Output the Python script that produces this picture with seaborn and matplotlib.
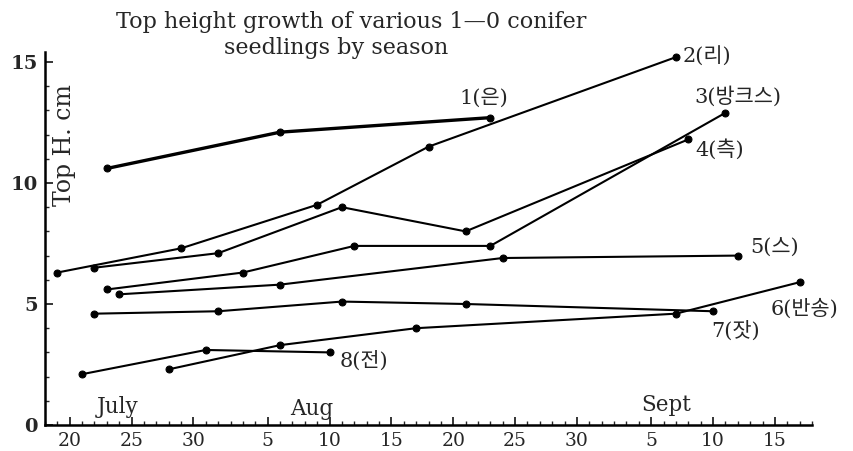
import matplotlib
matplotlib.use("Agg")
import matplotlib.pyplot as plt
import seaborn as sns
from matplotlib.ticker import FixedLocator, MultipleLocator

# days counted from July 1 (so Aug 5 = 36, Sept 5 = 67)
eun_days = [23, 37, 54]
eun_height = [10.6, 12.1, 12.7]

ri_days = [19, 29, 40, 49, 69]
ri_height = [6.3, 7.3, 9.1, 11.5, 15.2]

banks_days = [23, 34, 43, 54, 73]
banks_height = [5.6, 6.3, 7.4, 7.4, 12.9]

cheuk_days = [22, 32, 42, 52, 70]
cheuk_height = [6.5, 7.1, 9.0, 8.0, 11.8]

seu_days = [24, 37, 55, 74]
seu_height = [5.4, 5.8, 6.9, 7.0]

bansong_days = [28, 37, 48, 69, 79]
bansong_height = [2.3, 3.3, 4.0, 4.6, 5.9]

jat_days = [22, 32, 42, 52, 72]
jat_height = [4.6, 4.7, 5.1, 5.0, 4.7]

jeon_days = [21, 31, 41]
jeon_height = [2.1, 3.1, 3.0]

series_names = ["1(은)", "2(리)", "3(방크스)", "4(측)", "5(스)", "6(반송)", "7(잣)", "8(전)"]

tick_days = [20, 25, 30, 36, 41, 46, 51, 56, 61, 67, 72, 77]
tick_labels = ["20", "25", "30", "5", "10", "15", "20", "25", "30", "5", "10", "15"]

month_names = ["July", "Aug", "Sept"]
month_days = [23.9, 39.6, 68.2]
month_y = [0.74, 0.65, 0.84]

series = [
    (eun_days, eun_height),
    (ri_days, ri_height),
    (banks_days, banks_height),
    (cheuk_days, cheuk_height),
    (seu_days, seu_height),
    (bansong_days, bansong_height),
    (jat_days, jat_height),
    (jeon_days, jeon_height),
]
# label offsets from the last point, in points
label_offsets = [(-22, 14), (5, 0), (-22, 12), (5, -7), (9, 5), (-21, -19), (-1, -14), (7, -6)]
line_widths = [2.4, 1.5, 1.5, 1.5, 1.5, 1.5, 1.5, 1.5]

sns.set_style("white")
plt.rcParams['font.family'] = ['DejaVu Serif', 'Noto Sans CJK KR']

fig = plt.figure(figsize=(8.54, 4.51), dpi=100)
ax = fig.add_axes([45 / 854, 26 / 451, 767 / 854, 372.7 / 451])

for (days, height), name, off, lw in zip(series, series_names, label_offsets, line_widths):
    sns.lineplot(x=days, y=height, ax=ax, color="black", linewidth=lw,
                 marker="o", markersize=5, markeredgecolor="black")
    ax.annotate(name, (days[-1], height[-1]), xytext=off, textcoords="offset points",
                ha="left", va="center", fontsize=15)

for name, d, y in zip(month_names, month_days, month_y):
    ax.text(d, y, name, ha="center", va="center", fontsize=15.5)

ax.set_xlim(18, 80)
ax.set_ylim(0, 15.4)

ax.xaxis.set_major_locator(FixedLocator(tick_days))
ax.set_xticklabels(tick_labels, fontsize=13.5)
ax.xaxis.set_minor_locator(MultipleLocator(1))
ax.yaxis.set_major_locator(FixedLocator([0, 5, 10, 15]))
ax.set_yticklabels(["0", "5", "10", "15"], fontsize=14, fontweight="bold")
ax.yaxis.set_minor_locator(MultipleLocator(1))
ax.tick_params(axis="both", which="major", direction="in", length=6, width=1.3, pad=5)
ax.tick_params(axis="both", which="minor", direction="in", length=3, width=1)
ax.tick_params(bottom=True, left=True, which="both")

for side in ["top", "right"]:
    ax.spines[side].set_visible(False)
for side in ["left", "bottom"]:
    ax.spines[side].set_linewidth(1.8)
    ax.spines[side].set_color("black")

ax.set_xlabel("")
ax.set_ylabel("")
ax.text(0.026, 0.75, "Top H. cm", transform=ax.transAxes, rotation=90,
        ha="center", va="center", fontsize=17)

fig.text(351 / 854, 1 - 22 / 451, "Top height growth of various 1—0 conifer",
         ha="center", va="center", fontsize=16)
fig.text(336 / 854, 1 - 48 / 451, "seedlings by season",
         ha="center", va="center", fontsize=16)

fig.savefig("out.png", dpi=100)
plt.close()
